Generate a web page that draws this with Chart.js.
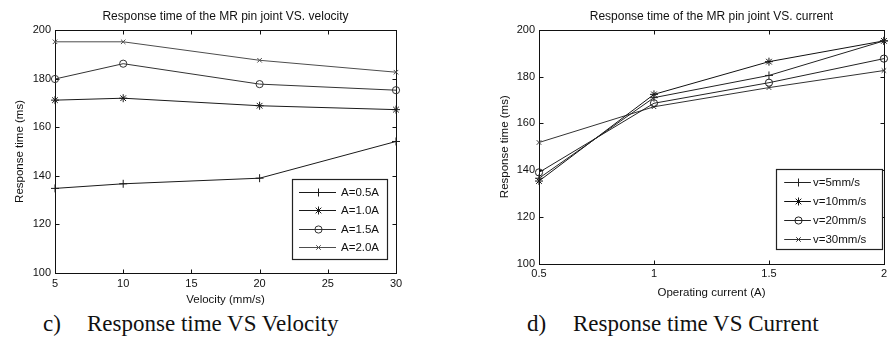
<!DOCTYPE html>
<html>
<head>
<meta charset="utf-8">
<script src="https://cdn.jsdelivr.net/npm/chart.js@4/dist/chart.umd.min.js"></script>
<style>
  html, body { margin: 0; padding: 0; background: #fff; }
  body { width: 891px; height: 341px; position: relative; overflow: hidden; }
  .wrap { position: absolute; top: 0; }
  .cap { position: absolute; font-family: "Liberation Serif", "Times New Roman", serif; font-size: 23px; line-height: 23px; color: #111; white-space: nowrap; }
</style>
</head>
<body>
<div class="wrap" style="left:0px;width:440px;height:310px;"><canvas id="c1" width="440" height="310"></canvas></div>
<div class="wrap" style="left:440px;width:451px;height:310px;"><canvas id="c2" width="451" height="310"></canvas></div>
<div class="cap" style="left:43px;top:312px;">c)</div>
<div class="cap" style="left:87px;top:312px;">Response time VS Velocity</div>
<div class="cap" style="left:527px;top:312px;">d)</div>
<div class="cap" style="left:573px;top:312px;">Response time VS Current</div>
<script>
// ---------- data ----------
const velocities = [5, 10, 20, 30];           // mm/s
const currents = [0.5, 1.0, 1.5, 2.0];        // A

// Left chart: response time vs velocity, one series per current
const currentLabels = ['A=0.5A', 'A=1.0A', 'A=1.5A', 'A=2.0A'];
const rtA05 = [134.8, 136.7, 139.0, 154.1];
const rtA10 = [171.1, 171.9, 168.8, 167.2];
const rtA15 = [179.8, 186.1, 177.7, 175.2];
const rtA20 = [195.1, 195.1, 187.5, 182.6];

// Right chart: response time vs current, one series per velocity
const velocityLabels = ['v=5mm/s', 'v=10mm/s', 'v=20mm/s', 'v=30mm/s'];
const rtV5 = [136.5, 171.0, 180.5, 195.3];
const rtV10 = [135.3, 172.4, 186.4, 195.3];
const rtV20 = [139.0, 168.6, 177.4, 187.7];
const rtV30 = [151.8, 167.1, 175.3, 182.6];

const velocityTicks = [5, 10, 15, 20, 25, 30];
const currentTicks = [0.5, 1, 1.5, 2];
const timeTicks = [100, 120, 140, 160, 180, 200];

// ---------- styling ----------
const SANS = '"Liberation Sans", Arial, sans-serif';
const markerStyles = ['cross', 'star', 'circle', 'crossRot'];
const markerRadius = [4, 4, 3.6, 3.2];

function pairs(xs, ys) { return xs.map((x, i) => ({ x: x, y: ys[i] })); }

function makeDatasets(xs, seriesList, labels, colors) {
  return seriesList.map((ys, i) => ({
    label: labels[i],
    data: pairs(xs, ys),
    borderColor: colors[i],
    borderWidth: 1,
    pointStyle: markerStyles[i],
    pointRadius: markerRadius[i],
    pointBorderColor: colors[i],
    pointBackgroundColor: 'rgba(0,0,0,0)',
    pointBorderWidth: 1,
    tension: 0,
    fill: false,
    clip: false
  }));
}

function drawMarker(ctx, style, r, x, y) {
  ctx.beginPath();
  if (style === 'circle') {
    ctx.arc(x, y, r, 0, Math.PI * 2);
  } else {
    const segs = [];
    if (style === 'cross' || style === 'star') segs.push([0, -r, 0, r], [-r, 0, r, 0]);
    if (style === 'crossRot' || style === 'star') {
      const d = r * Math.SQRT1_2;
      segs.push([-d, -d, d, d], [-d, d, d, -d]);
    }
    segs.forEach(s => { ctx.moveTo(x + s[0], y + s[1]); ctx.lineTo(x + s[2], y + s[3]); });
  }
  ctx.stroke();
}

// axes box with inward ticks on all four sides
const frameTicks = {
  id: 'frameTicks',
  beforeDatasetsDraw(chart) {
    const { ctx, chartArea: a, scales } = chart;
    ctx.save();
    ctx.strokeStyle = '#111';
    ctx.lineWidth = 1;
    const l = Math.round(a.left) + 0.5, r = Math.round(a.right) + 0.5;
    const t = Math.round(a.top) + 0.5, b = Math.round(a.bottom) + 0.5;
    ctx.strokeRect(l, t, r - l, b - t);
    const L = 4;
    ctx.beginPath();
    scales.x.ticks.forEach(tk => {
      const px = Math.round(scales.x.getPixelForValue(tk.value)) + 0.5;
      ctx.moveTo(px, b); ctx.lineTo(px, b - L);
      ctx.moveTo(px, t); ctx.lineTo(px, t + L);
    });
    scales.y.ticks.forEach(tk => {
      const py = Math.round(scales.y.getPixelForValue(tk.value)) + 0.5;
      ctx.moveTo(l, py); ctx.lineTo(l + L, py);
      ctx.moveTo(r, py); ctx.lineTo(r - L, py);
    });
    ctx.stroke();
    ctx.restore();
  }
};

// boxed legend inside the plot area (lower right)
const boxLegend = {
  id: 'boxLegend',
  afterDraw(chart, args, o) {
    const { ctx, chartArea: a } = chart;
    const x0 = Math.round(a.right - o.right - o.width) + 0.5;
    const y0 = Math.round(a.bottom - o.bottom - o.height) + 0.5;
    ctx.save();
    ctx.fillStyle = '#fff';
    ctx.fillRect(x0, y0, o.width, o.height);
    ctx.strokeStyle = '#222';
    ctx.lineWidth = 1.2;
    ctx.strokeRect(x0, y0, o.width, o.height);
    ctx.font = o.fontSize + 'px ' + SANS;
    ctx.textBaseline = 'middle';
    ctx.textAlign = 'left';
    chart.data.datasets.forEach((ds, i) => {
      const y = Math.round(y0 + o.rowStart + i * o.rowGap) + 0.5;
      ctx.strokeStyle = ds.borderColor;
      ctx.lineWidth = 1;
      ctx.beginPath();
      ctx.moveTo(x0 + o.lineX0, y);
      ctx.lineTo(x0 + o.lineX1, y);
      ctx.stroke();
      drawMarker(ctx, ds.pointStyle, ds.pointRadius, Math.round(x0 + (o.lineX0 + o.lineX1) / 2) + 0.5, y);
      ctx.fillStyle = '#111';
      ctx.fillText(ds.label, x0 + o.textX, y + 0.5);
    });
    ctx.restore();
  }
};

function makeChart(id, cfg) {
  return new Chart(document.getElementById(id), {
    type: 'line',
    data: { datasets: cfg.datasets },
    plugins: [frameTicks, boxLegend],
    options: {
      responsive: false,
      animation: false,
      devicePixelRatio: 1,
      layout: { padding: { left: 0, right: cfg.padRight, top: 0, bottom: 0 } },
      plugins: {
        legend: { display: false },
        tooltip: { enabled: false },
        title: {
          display: true, text: cfg.title, fullSize: false, color: '#111',
          font: { family: SANS, size: 12, weight: 'normal' },
          padding: { top: 9.5, bottom: 6 }
        },
        boxLegend: cfg.legend
      },
      scales: {
        x: {
          type: 'linear', min: cfg.xMin, max: cfg.xMax,
          afterBuildTicks: s => { s.ticks = cfg.xTicks.map(v => ({ value: v })); },
          afterFit: s => { s.height = cfg.xAxisHeight; },
          grid: { display: false, drawTicks: false },
          border: { display: false },
          ticks: { color: '#111', font: { family: SANS, size: 11 }, padding: 4, maxRotation: 0, autoSkip: false,
                   callback: v => String(v) },
          title: { display: true, text: cfg.xTitle, color: '#111', font: { family: SANS, size: 11.5 },
                   padding: { top: 0, bottom: cfg.xTitlePad } }
        },
        y: {
          type: 'linear', min: 100, max: 200,
          afterBuildTicks: s => { s.ticks = timeTicks.map(v => ({ value: v })); },
          afterFit: s => { s.width = cfg.yAxisWidth; },
          grid: { display: false, drawTicks: false },
          border: { display: false },
          ticks: { color: '#111', font: { family: SANS, size: 11 }, padding: 4, callback: v => String(v) },
          title: { display: true, text: 'Response time (ms)', color: '#111', font: { family: SANS, size: 11.5 },
                   padding: { top: cfg.yTitlePad, bottom: 0 } }
        }
      }
    }
  });
}

makeChart('c1', {
  datasets: makeDatasets(velocities, [rtA05, rtA10, rtA15, rtA20], currentLabels, ['#1a1a1a', '#1a1a1a', '#333', '#4d4d4d']),
  title: 'Response time of the MR pin joint VS. velocity',
  xTitle: 'Velocity (mm/s)',
  xMin: 5, xMax: 30, xTicks: velocityTicks,
  padRight: 44, yAxisWidth: 55, xAxisHeight: 37,
  yTitlePad: 13, xTitlePad: 3,
  legend: { right: 9.5, bottom: 14.5, width: 95, height: 80, rowStart: 12, rowGap: 18.5,
            lineX0: 6.5, lineX1: 43.5, textX: 48.5, fontSize: 11.5 }
});

makeChart('c2', {
  datasets: makeDatasets(currents, [rtV5, rtV10, rtV20, rtV30], velocityLabels, ['#222', '#111', '#222', '#333']),
  title: 'Response time of the MR pin joint VS. current',
  xTitle: 'Operating current (A)',
  xMin: 0.5, xMax: 2, xTicks: currentTicks,
  padRight: 6, yAxisWidth: 99, xAxisHeight: 46.5,
  yTitlePad: 58, xTitlePad: 10,
  legend: { right: 1.7, bottom: 14.2, width: 106, height: 80, rowStart: 12.4, rowGap: 18.9,
            lineX0: 7.7, lineX1: 34.4, textX: 36.5, fontSize: 11.5 }
});
</script>
</body>
</html>
